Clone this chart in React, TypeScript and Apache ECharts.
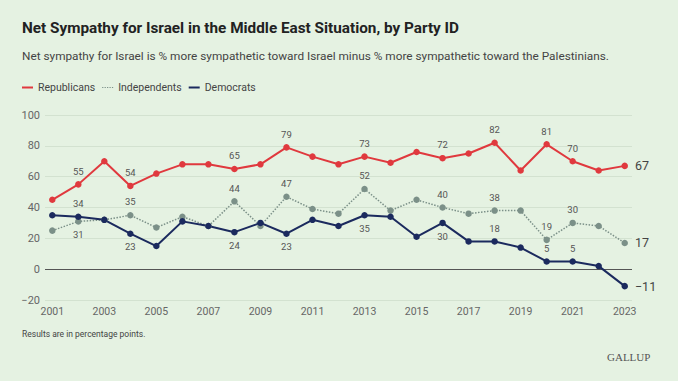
import React, { useEffect, useRef } from "react";
import * as echarts from "echarts";

const years = [2001, 2002, 2003, 2004, 2005, 2006, 2007, 2008, 2009, 2010, 2011, 2012, 2013, 2014, 2015, 2016, 2017, 2018, 2019, 2020, 2021, 2022, 2023];
const republicans = [45, 55, 70, 54, 62, 68, 68, 65, 68, 79, 73, 68, 73, 69, 76, 72, 75, 82, 64, 81, 70, 64, 67];
const independents = [25, 31, 32, 35, 27, 34, 28, 44, 28, 47, 39, 36, 52, 38, 45, 40, 36, 38, 38, 19, 30, 28, 17];
const democrats = [35, 34, 32, 23, 15, 31, 28, 24, 30, 23, 32, 28, 35, 34, 21, 30, 18, 18, 14, 5, 5, 2, -11];

const repLabelsAbove = [2002, 2004, 2008, 2010, 2013, 2016, 2018, 2020, 2021];
const repLabelsBelow: number[] = [];
const indLabelsAbove = [2004, 2008, 2010, 2013, 2016, 2018, 2020, 2021];
const indLabelsBelow = [2002];
const demLabelsAbove = [2002, 2018, 2020, 2021];
const demLabelsBelow = [2004, 2008, 2010, 2013, 2016];

const xTickYears = [2001, 2003, 2005, 2007, 2009, 2011, 2013, 2015, 2017, 2019, 2021, 2023];

const TITLE = "Net Sympathy for Israel in the Middle East Situation, by Party ID";
const SUBTITLE = "Net sympathy for Israel is % more sympathetic toward Israel minus % more sympathetic toward the Palestinians.";
const FOOTNOTE = "Results are in percentage points.";

const fmt = (v: number) => (v < 0 ? "\u2212" + Math.abs(v) : String(v));

function buildData(values: number[], above: number[], below: number[]) {
  return values.map((v, i) => {
    const y = years[i];
    const isLast = i === values.length - 1;
    let label: any = { show: false };
    if (isLast) {
      label = { show: true, position: "right", distance: 7, fontSize: 12.5, color: "#444", formatter: () => fmt(v) };
    } else if (above.includes(y)) {
      label = { show: true, position: "top", distance: 5, fontSize: 9.5, color: "#555", formatter: () => fmt(v) };
    } else if (below.includes(y)) {
      label = { show: true, position: "bottom", distance: 5, fontSize: 9.5, color: "#555", formatter: () => fmt(v) };
    }
    return { value: [y, v], label };
  });
}

const FONT = "Roboto, 'Noto Sans', sans-serif";

export default function App() {
  const ref = useRef<HTMLDivElement>(null);
  useEffect(() => {
    document.body.style.margin = "0";
    const chart = echarts.init(ref.current!, null, { renderer: "svg" });
    const gridLight = "#d3e2d0";
    chart.setOption({
      animation: false,
      backgroundColor: "#e5f2e2",
      textStyle: { fontFamily: FONT },
      title: [
        { text: TITLE, left: 17, top: 15, padding: 5, textStyle: { fontSize: 15.3, fontWeight: "bold", color: "#222", fontFamily: FONT } },
        { text: SUBTITLE, left: 17, top: 45, padding: 5, textStyle: { fontSize: 11.8, fontWeight: "normal", color: "#444", fontFamily: FONT } },
      ],
      legend: {
        left: 17,
        top: 77,
        itemWidth: 11,
        itemHeight: 2,
        itemGap: 7,
        textStyle: { fontSize: 10.5, color: "#444", fontFamily: FONT },
        data: [
          { name: "Republicans", icon: "rect" },
          { name: "Independents", icon: "path://M0 0h2v2H0zM4 0h2v2H4zM8 0h2v2H8zM12 0h2v2h-2zM16 0h2v2h-2z" },
          { name: "Democrats", icon: "rect" },
        ],
      },
      grid: { left: 45, right: 46, top: 115, bottom: 81, containLabel: false },
      xAxis: {
        type: "value",
        min: 2000.72,
        max: 2023.28,
        axisLine: { show: false },
        axisTick: { show: false },
        splitLine: { show: false },
        axisLabel: {
          customValues: xTickYears,
          formatter: (v: number) => String(v),
          color: "#666",
          fontSize: 10.5,
          margin: 6,
          fontFamily: FONT,
        },
      },
      yAxis: {
        type: "value",
        min: -20,
        max: 100,
        interval: 20,
        axisLine: { show: false },
        axisTick: { show: false },
        axisLabel: { color: "#666", fontSize: 11, margin: 5, formatter: (v: number) => fmt(v), fontFamily: FONT },
        splitLine: { show: true, lineStyle: { color: [gridLight, "#555555", gridLight, gridLight, gridLight, gridLight, gridLight], width: 1 } },
      },
      series: [
        {
          name: "Independents",
          type: "line",
          symbol: "circle",
          symbolSize: 6.5,
          color: "#7b9088",
          lineStyle: { type: "dotted", width: 1.5, color: "#7b9088" },
          itemStyle: { color: "#7b9088" },
          data: buildData(independents, indLabelsAbove, indLabelsBelow),
        },
        {
          name: "Democrats",
          type: "line",
          symbol: "circle",
          symbolSize: 6.5,
          color: "#1b2a5e",
          lineStyle: { width: 2, color: "#1b2a5e" },
          itemStyle: { color: "#1b2a5e" },
          data: buildData(democrats, demLabelsAbove, demLabelsBelow),
        },
        {
          name: "Republicans",
          type: "line",
          symbol: "circle",
          symbolSize: 6.5,
          color: "#e0393e",
          lineStyle: { width: 2, color: "#e0393e" },
          itemStyle: { color: "#e0393e" },
          data: buildData(republicans, repLabelsAbove, repLabelsBelow),
        },
      ],
      graphic: [
        { type: "text", left: 22, top: 329, style: { text: FOOTNOTE, fontSize: 8.5, fill: "#444", fontFamily: FONT } },
        { type: "text", left: 607, top: 351, style: { text: "GALLUP", fontSize: 11, fill: "#555", fontFamily: "'Liberation Serif', 'DejaVu Serif', serif" } },
      ],
    });
    return () => chart.dispose();
  }, []);
  return <div ref={ref} style={{ position: "fixed", left: 0, top: 0, width: 678, height: 381 }} />;
}
